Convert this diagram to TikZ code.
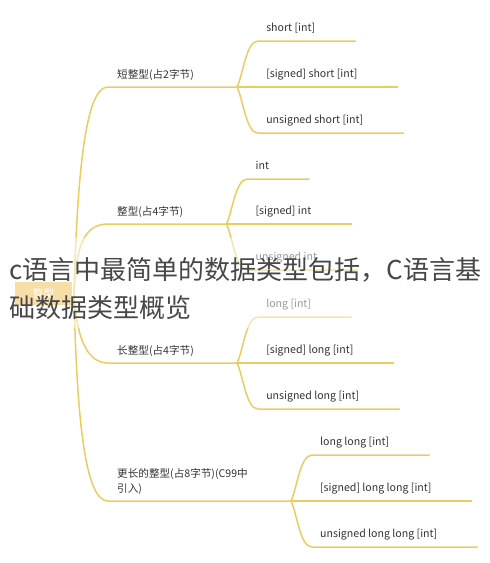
\documentclass[tikz,border=0pt]{standalone}
\usepackage{fontspec}
\setmainfont{Noto Sans CJK SC}
\definecolor{mapline}{HTML}{EBCB62}
\definecolor{rootfill}{HTML}{EFBD50}
\definecolor{maptext}{HTML}{333333}

\begin{document}
\begin{tikzpicture}[x=1pt,y=-1pt,font=\fontsize{10.6}{15}\selectfont,text=maptext]
\tikzstyle{link}=[draw=mapline,line width=1.5pt,line cap=round]
\tikzstyle{root}=[fill=rootfill,text=white,minimum width=57pt,minimum height=23pt,inner sep=0]
\tikzstyle{branch}=[anchor=south west,inner sep=0,text depth=8pt,align=left]
\tikzstyle{leaf}=[anchor=south west,inner sep=0,text depth=9pt]
    \useasboundingbox (0,0) rectangle (490,563);

    \node[root] (root) at (43.5,293.5){整型};
    \coordinate (hub) at (74,293.5);

    \node[branch] (n1) at (117,87){短整型(占2字节)};
    \node[branch] (n2) at (117,224){整型(占4字节)};
    \node[branch] (n3) at (117,363){长整型(占4字节)};
    \node[branch] (n4) at (117,501){更长的整型(占8字节)(C99中\\引入)};
    \foreach \n in {n1,n2,n3,n4}{
        \coordinate (\n-a) at ([xshift=-9pt]\n.south west);
        \coordinate (\n-b) at ([xshift=43pt]\n.south east);
    }

    \draw[link] (hub) .. controls (78,140) and (90,87) .. (n1-a) -- (n1-b);
    \draw[link] (hub) .. controls (76,250) and (82,224) .. (n2-a) -- (n2-b);
    \draw[link] (hub) .. controls (76,330) and (84,363) .. (n3-a) -- (n3-b);
    \draw[link] (hub) .. controls (77,440) and (88,501) .. (n4-a) -- (n4-b);

    \node[leaf] (l1u) at ([xshift=29pt,yshift=46pt]n1-b){short [int]};
    \node[leaf] (l1m) at ([xshift=29pt]n1-b){[signed] short [int]};
    \node[leaf] (l1d) at ([xshift=29pt,yshift=-46pt]n1-b){unsigned short [int]};
    \node[leaf] (l2u) at ([xshift=29pt,yshift=45pt]n2-b){int};
    \node[leaf] (l2m) at ([xshift=29pt]n2-b){[signed] int};
    \node[leaf] (l2d) at ([xshift=29pt,yshift=-46pt]n2-b){unsigned int};
    \node[leaf] (l3u) at ([xshift=29pt,yshift=46pt]n3-b){long [int]};
    \node[leaf] (l3m) at ([xshift=29pt]n3-b){[signed] long [int]};
    \node[leaf] (l3d) at ([xshift=29pt,yshift=-46pt]n3-b){unsigned long [int]};
    \node[leaf] (l4u) at ([xshift=29pt,yshift=46pt]n4-b){long long [int]};
    \node[leaf] (l4m) at ([xshift=29pt]n4-b){[signed] long long [int]};
    \node[leaf] (l4d) at ([xshift=29pt,yshift=-46pt]n4-b){unsigned long long [int]};

    \draw[link] (n1-b) .. controls +(6,-12) and +(-12,0) .. ([xshift=-8pt]l1u.south west) -- ([xshift=40pt]l1u.south east);
    \draw[link] (n1-b) -- ([xshift=-8pt]l1m.south west) -- ([xshift=40pt]l1m.south east);
    \draw[link] (n1-b) .. controls +(6,12) and +(-12,0) .. ([xshift=-8pt]l1d.south west) -- ([xshift=40pt]l1d.south east);
    \draw[link] (n2-b) .. controls +(6,-12) and +(-12,0) .. ([xshift=-8pt]l2u.south west) -- ([xshift=40pt]l2u.south east);
    \draw[link] (n2-b) -- ([xshift=-8pt]l2m.south west) -- ([xshift=40pt]l2m.south east);
    \draw[link] (n2-b) .. controls +(6,12) and +(-12,0) .. ([xshift=-8pt]l2d.south west) -- ([xshift=40pt]l2d.south east);
    \draw[link] (n3-b) .. controls +(6,-12) and +(-12,0) .. ([xshift=-8pt]l3u.south west) -- ([xshift=40pt]l3u.south east);
    \draw[link] (n3-b) -- ([xshift=-8pt]l3m.south west) -- ([xshift=40pt]l3m.south east);
    \draw[link] (n3-b) .. controls +(6,12) and +(-12,0) .. ([xshift=-8pt]l3d.south west) -- ([xshift=40pt]l3d.south east);
    \draw[link] (n4-b) .. controls +(6,-12) and +(-12,0) .. ([xshift=-8pt]l4u.south west) -- ([xshift=40pt]l4u.south east);
    \draw[link] (n4-b) -- ([xshift=-8pt]l4m.south west) -- ([xshift=40pt]l4m.south east);
    \draw[link] (n4-b) .. controls +(6,12) and +(-12,0) .. ([xshift=-8pt]l4d.south west) -- ([xshift=40pt]l4d.south east);

    % caption laid over the map
    \fill[white,opacity=0.5] (0,238) rectangle (490,328);
    \node[anchor=north west,inner sep=0,align=left,text=black!72,font=\fontsize{26}{38}\selectfont] (title) at (9,257){c语言中最简单的数据类型包括，C语言基\\础数据类型概览};

\end{tikzpicture}
\end{document}
